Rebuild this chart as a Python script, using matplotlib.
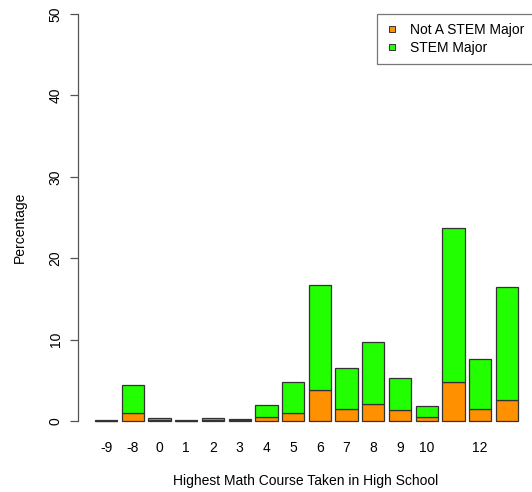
import matplotlib
matplotlib.use('Agg')
import matplotlib.pyplot as plt
from matplotlib.lines import Line2D
import numpy as np

plt.rcParams['font.family'] = ['Liberation Sans', 'DejaVu Sans']

# highest math course codes (R drops the 11 and 13 labels for overlap)
courses = ['-9', '-8', '0', '1', '2', '3', '4', '5', '6', '7', '8', '9', '10', '11', '12', '13']
shown_labels = ['-9', '-8', '0', '1', '2', '3', '4', '5', '6', '7', '8', '9', '10', '', '12', '']
not_stem = [0.05, 0.95, 0.1, 0.05, 0.1, 0.1, 0.49, 0.95, 3.8, 1.47, 2.05, 1.35, 0.45, 4.79, 1.43, 2.62]
total = [0.1, 4.37, 0.4, 0.15, 0.33, 0.3, 1.93, 4.83, 16.7, 6.47, 9.75, 5.24, 1.8, 23.75, 7.66, 16.46]
stem = [t - n for t, n in zip(total, not_stem)]

ORANGE = '#ff9000'
GREEN = '#22ff00'
EDGE = '#333333'
FS = 10

W, H = 532, 492
fig = plt.figure(figsize=(W / 100, H / 100), dpi=100)
# plot region as in R's barplot (xlim/ylim extended by 4%)
x0, x1 = 78, 535
yb, yt = 437.3, -2.3
ax = fig.add_axes([x0 / W, 1 - yb / H, (x1 - x0) / W, (yb - yt) / H])

pos = 0.7 + 1.2 * np.arange(len(courses))
ax.bar(pos, not_stem, width=1.0, color=ORANGE, edgecolor=EDGE, linewidth=0.9)
ax.bar(pos, stem, width=1.0, bottom=not_stem, color=GREEN, edgecolor=EDGE, linewidth=0.9)

ax.set_xlim(-0.56, 19.96)
ax.set_ylim(-2, 52)

for s in ['top', 'right', 'bottom']:
    ax.spines[s].set_visible(False)
ax.spines['left'].set_bounds(0, 50)
ax.spines['left'].set_color('#555555')
ax.spines['left'].set_linewidth(0.9)

ax.set_yticks([0, 10, 20, 30, 40, 50])
ax.set_yticklabels(['0', '10', '20', '30', '40', '50'], rotation=90, va='center', fontsize=FS)
ax.tick_params(axis='y', length=6, width=0.9, color='#555555', pad=5)

ax.set_xticks(pos)
ax.set_xticklabels(shown_labels, fontsize=FS)
ax.tick_params(axis='x', length=0, pad=3)

fig.text(306 / W, 1 - 481 / H, 'Highest Math Course Taken in High School',
         ha='center', va='center', fontsize=FS)
fig.text(20 / W, 1 - 227 / H, 'Percentage', rotation=90,
         ha='center', va='center', fontsize=FS)

handles = [Line2D([], [], marker='s', linestyle='none', markersize=4.6,
                  markerfacecolor=ORANGE, markeredgecolor=EDGE, markeredgewidth=0.7),
           Line2D([], [], marker='s', linestyle='none', markersize=4.6,
                  markerfacecolor=GREEN, markeredgecolor=EDGE, markeredgewidth=0.7)]
leg = fig.legend(handles, ['Not A STEM Major', 'STEM Major'],
                 loc='upper left', bbox_to_anchor=(377 / W, 1 - 14 / H),
                 fontsize=FS, fancybox=False, frameon=True,
                 handlelength=0.8, handletextpad=0.9,
                 labelspacing=0.3, borderpad=0.65, borderaxespad=0)
leg.get_frame().set_edgecolor('#555555')
leg.get_frame().set_linewidth(0.9)

fig.savefig('out.png', dpi=100)
